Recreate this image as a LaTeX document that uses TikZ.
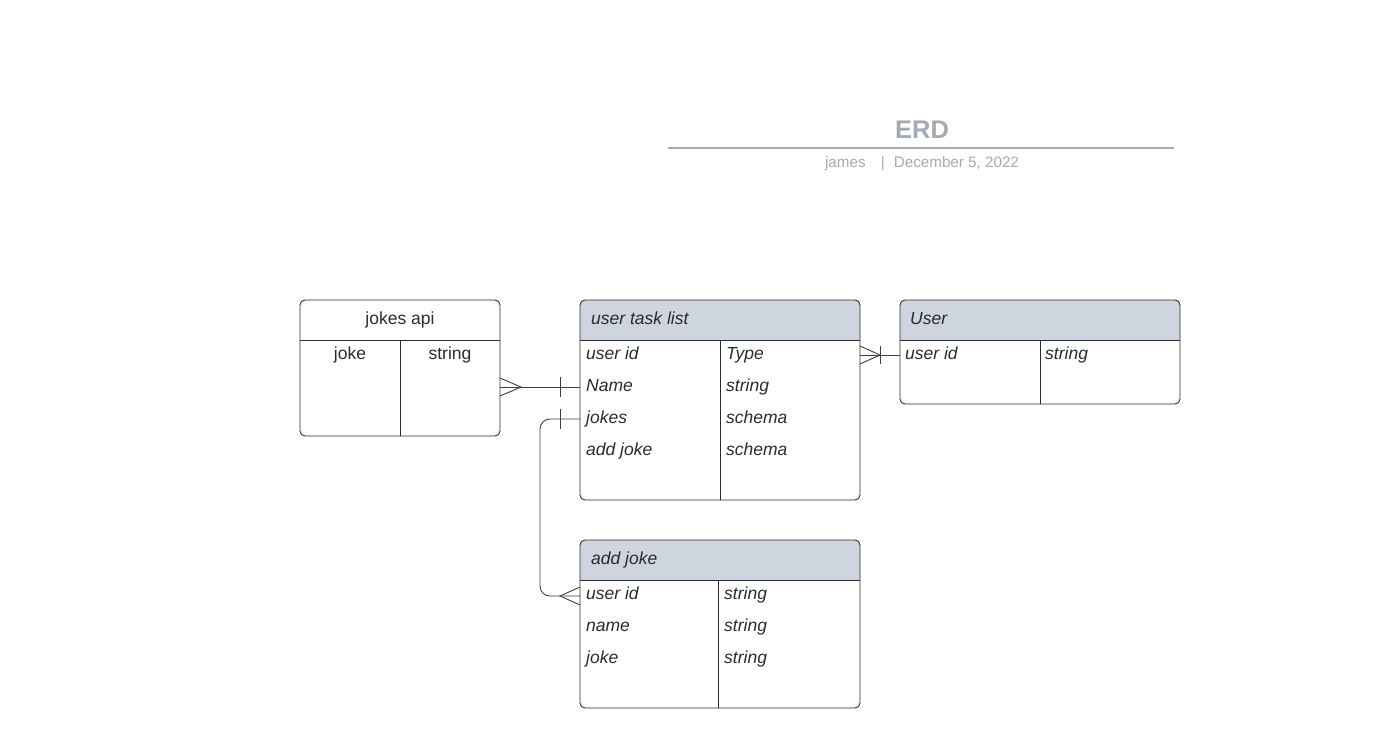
\documentclass[tikz,border=0pt]{standalone}
\usepackage{fontspec}
\setmainfont{Liberation Sans}
\usetikzlibrary{positioning,arrows.meta}
\definecolor{inkc}{HTML}{272C33}
\definecolor{hdrc}{HTML}{CED5DE}
\definecolor{titlec}{HTML}{A4AAB4}
\definecolor{linkc}{HTML}{3A4049}

\begin{document}
\begin{tikzpicture}[x=1pt,y=-1pt,
  tbl/.style={draw=inkc,line width=0.9pt,rounded corners=5pt},
  cell/.style={anchor=base west,inner sep=0pt,font=\fontsize{17.5}{20}\selectfont\itshape,text=inkc},
  plain/.style={anchor=base,inner sep=0pt,font=\fontsize{17.5}{20}\selectfont,text=inkc},
  link/.style={draw=linkc,line width=0.9pt}]
\useasboundingbox (0,0) rectangle (1387,748);

% title block
\node (erd) [inner sep=0pt,anchor=base,font=\fontsize{25.5}{28}\selectfont\bfseries,text=titlec] at (922,138) {ERD};
\coordinate (rulel) at (668,148);
\coordinate (ruler) at (1174,148);
\draw[titlec,line width=1.6pt] (rulel) -- (ruler);
\node (meta) [inner sep=0pt,anchor=base,font=\fontsize{15.2}{18}\selectfont,text=titlec] at (922,167) {james\hspace{1em}|\hspace{0.6em}December 5, 2022};

% jokes api
\draw[tbl] (300,300) rectangle (500,436);
\draw[inkc,line width=0.9pt] (300,340) -- (500,340) (400,340) -- (400,436);
\node (japi) [plain] at (400,324) {jokes api};
\node (japi-a) [plain] at (350,359) {joke};
\node (japi-b) [plain] at (450,359) {string};

% user task list
\fill[hdrc] (580,340) [rounded corners=5pt] -- (580,300) -- (860,300) [sharp corners] -- (860,340) -- cycle;
\draw[tbl] (580,300) rectangle (860,500);
\draw[inkc,line width=0.9pt] (580,340) -- (860,340) (720,340) -- (720,500);
\node (utl) [cell] at (591,324) {user task list};
\node (utl-1a) [cell] at (586,359) {user id};
\node (utl-1b) [cell] at (726,359) {Type};
\node (utl-2a) [cell] at (586,391) {Name};
\node (utl-2b) [cell] at (726,391) {string};
\node (utl-3a) [cell] at (586,423) {jokes};
\node (utl-3b) [cell] at (726,423) {schema};
\node (utl-4a) [cell] at (586,455) {add joke};
\node (utl-4b) [cell] at (726,455) {schema};

% User
\fill[hdrc] (900,340) [rounded corners=5pt] -- (900,300) -- (1180,300) [sharp corners] -- (1180,340) -- cycle;
\draw[tbl] (900,300) rectangle (1180,404);
\draw[inkc,line width=0.9pt] (900,340) -- (1180,340) (1040,340) -- (1040,404);
\node (usr) [cell] at (910,324) {User};
\node (usr-1a) [cell] at (905,359) {user id};
\node (usr-1b) [cell] at (1045,359) {string};

% add joke
\fill[hdrc] (580,580) [rounded corners=5pt] -- (580,540) -- (860,540) [sharp corners] -- (860,580) -- cycle;
\draw[tbl] (580,540) rectangle (860,708);
\draw[inkc,line width=0.9pt] (580,580) -- (860,580) (718,580) -- (718,708);
\node (adj) [cell] at (591,564) {add joke};
\node (adj-1a) [cell] at (586,599) {user id};
\node (adj-1b) [cell] at (724,599) {string};
\node (adj-2a) [cell] at (586,631) {name};
\node (adj-2b) [cell] at (724,631) {string};
\node (adj-3a) [cell] at (586,663) {joke};
\node (adj-3b) [cell] at (724,663) {string};

% ports
\coordinate (p-japi) at (500,387);
\coordinate (p-name) at (580,387);
\coordinate (p-type) at (860,355);
\coordinate (p-usr) at (900,355);
\coordinate (p-jokes) at (580,419);
\coordinate (p-adj) at (580,596);

% jokes api >--|  Name
\draw[link] (p-japi) -- (p-name);
\draw[link] ([yshift=-9pt]p-japi) -- ([xshift=21pt]p-japi) -- ([yshift=9pt]p-japi);
\draw[link] ([xshift=-20pt,yshift=-10pt]p-name) -- ([xshift=-20pt,yshift=10pt]p-name);

% Type >|-- user id
\draw[link] (p-type) -- (p-usr);
\draw[link] ([yshift=-9pt]p-type) -- ([xshift=20pt]p-type) -- ([yshift=9pt]p-type);
\draw[link] ([xshift=20pt,yshift=-9pt]p-type) -- ([xshift=20pt,yshift=9pt]p-type);

% jokes |-- ... --< user id
\draw[link,rounded corners=10pt] (p-jokes) -- ([xshift=-40pt]p-jokes) |- (p-adj);
\draw[link] ([xshift=-20pt,yshift=-10pt]p-jokes) -- ([xshift=-20pt,yshift=10pt]p-jokes);
\draw[link] ([yshift=-9pt]p-adj) -- ([xshift=-20pt]p-adj) -- ([yshift=9pt]p-adj);
\end{tikzpicture}
\end{document}
